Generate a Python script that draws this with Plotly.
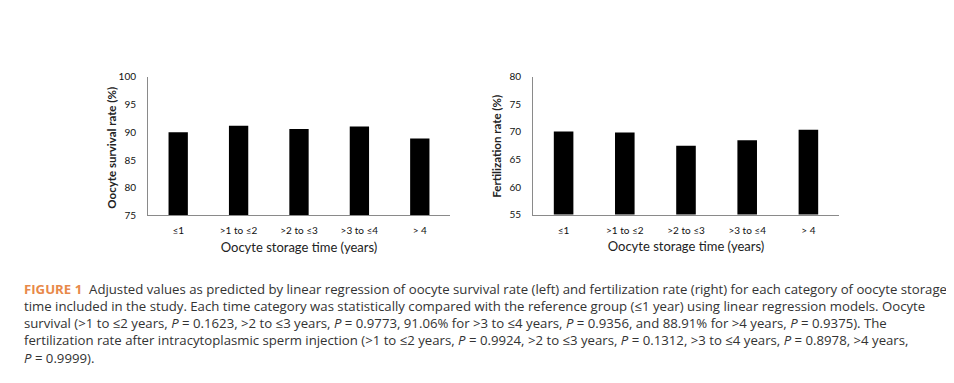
import plotly.graph_objects as go

categories = ["≤1", ">1 to ≤2", ">2 to ≤3", ">3 to ≤4", "> 4"]
survival = [90.0, 91.2, 90.6, 91.06, 88.91]
fertilization = [70.1, 69.9, 67.5, 68.5, 70.4]
survival_ticks = [75, 80, 85, 90, 95, 100]
fert_ticks = [55, 60, 65, 70, 75, 80]

W, H = 954, 383
OX, OY = 8, 8  # page body margin offset

def px(x):
    return (x - OX) / W

def py(y):
    return 1 - (y - OY) / H

fig = go.Figure()
fig.add_trace(go.Bar(x=categories, y=survival, marker=dict(color="black", line=dict(width=0)),
                     width=0.32, xaxis="x", yaxis="y", showlegend=False))
fig.add_trace(go.Bar(x=categories, y=fertilization, marker=dict(color="black", line=dict(width=0)),
                     width=0.32, xaxis="x2", yaxis="y2", showlegend=False))

cfont = "Lato, Open Sans, sans-serif"
axis_common = dict(showgrid=False, zeroline=False, ticks="", linecolor="#8a8a8a", linewidth=1,
                   showline=True, tickfont=dict(family=cfont, size=10, color="#111"))

fig.update_layout(
    width=W, height=H, margin=dict(l=0, r=0, t=0, b=0),
    paper_bgcolor="white", plot_bgcolor="white",
    xaxis=dict(domain=[px(148), px(450)], anchor="y", range=[-0.5, 4.5], type="category",
               ticklabelstandoff=6,
               title=dict(text="Oocyte storage time (years)", font=dict(family=cfont, size=13, color="#222"), standoff=7),
               **axis_common),
    yaxis=dict(domain=[py(216), py(73)], anchor="x", range=[75, 100], tickvals=survival_ticks,
               ticklabelstandoff=9, **axis_common),
    xaxis2=dict(domain=[px(533), px(839)], anchor="y2", range=[-0.5, 4.5], type="category",
                ticklabelstandoff=6,
                title=dict(text="Oocyte storage time (years)", font=dict(family=cfont, size=13, color="#222"), standoff=7),
                **axis_common),
    yaxis2=dict(domain=[py(215), py(73)], anchor="x2", range=[55, 80], tickvals=fert_ticks,
                ticklabelstandoff=9, **axis_common),
)

# rotated y-axis titles
fig.add_annotation(text="<b>Oocyte survival rate (%)</b>", textangle=-90, xref="paper", yref="paper",
                   x=px(112), y=py(146), xanchor="center", yanchor="middle", showarrow=False,
                   font=dict(family=cfont, size=11.5, color="#222"))
fig.add_annotation(text="<b>Fertilization rate (%)</b>", textangle=-90, xref="paper", yref="paper",
                   x=px(497), y=py(145), xanchor="center", yanchor="middle", showarrow=False,
                   font=dict(family=cfont, size=11.5, color="#222"))

caption_lines = [
    "<span style='color:#e8894a'><b>FIGURE 1</b></span>  Adjusted values as predicted by linear regression of oocyte survival rate (left) and fertilization rate (right) for each category of oocyte storage",
    "time included in the study. Each time category was statistically compared with the reference group (≤1 year) using linear regression models. Oocyte",
    "survival (>1 to ≤2 years, <i>P</i> = 0.1623, >2 to ≤3 years, <i>P</i> = 0.9773, 91.06% for >3 to ≤4 years, <i>P</i> = 0.9356, and 88.91% for >4 years, <i>P</i> = 0.9375). The",
    "fertilization rate after intracytoplasmic sperm injection (>1 to ≤2 years, <i>P</i> = 0.9924, >2 to ≤3 years, <i>P</i> = 0.1312, >3 to ≤4 years, <i>P</i> = 0.8978, >4 years,",
    "<i>P</i> = 0.9999).",
]
fig.add_annotation(text="<br>".join(caption_lines), xref="paper", yref="paper", x=px(23), y=py(282),
                   xanchor="left", yanchor="top", align="left", showarrow=False, borderpad=0,
                   font=dict(family="Open Sans, Arial, sans-serif", size=13.2, color="#333"))

fig.write_html("out.html")
